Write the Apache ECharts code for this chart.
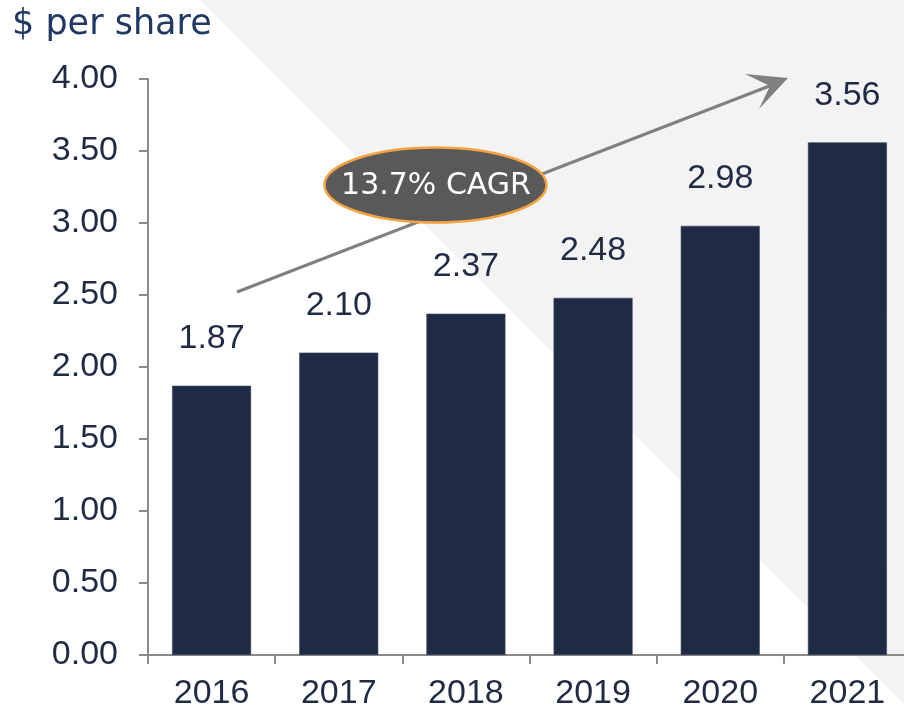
<!DOCTYPE html>
<html>
<head>
<meta charset="utf-8">
<script src="https://cdn.jsdelivr.net/npm/echarts@6/dist/echarts.min.js"></script>
<style>
  html, body { margin: 0; padding: 0; background: #fff; }
  #chart { width: 904px; height: 711px; }
</style>
</head>
<body>
<div id="chart"></div>
<script>
// data
var years = ['2016', '2017', '2018', '2019', '2020', '2021'];
var perShare = [1.87, 2.10, 2.37, 2.48, 2.98, 3.56];
var yTicks = { min: 0, max: 4, step: 0.5 };
var unitLabel = '$ per share';
var cagrLabel = '13.7% CAGR';

var navy = '#1f2a44';
var axisGray = '#8a8a8a';

var myChart = echarts.init(document.getElementById('chart'), null, { renderer: 'canvas' });

var option = {
  backgroundColor: '#ffffff',
  animation: false,
  // plot runs a little past the right edge, like the original slide
  grid: { left: 148, top: 79, width: 763, bottom: 56, outerBoundsMode: 'none', containLabel: false },
  xAxis: {
    type: 'category',
    data: years,
    axisLine: { lineStyle: { color: axisGray, width: 2 } },
    axisTick: { show: true, length: 9, lineStyle: { color: axisGray, width: 2 } },
    axisLabel: {
      color: navy,
      fontFamily: 'Liberation Sans',
      fontSize: 34,
      margin: 22
    }
  },
  yAxis: {
    type: 'value',
    min: yTicks.min,
    max: yTicks.max,
    interval: yTicks.step,
    axisLine: { show: true, lineStyle: { color: axisGray, width: 2 } },
    axisTick: { show: true, length: 9, lineStyle: { color: axisGray, width: 2 } },
    splitLine: { show: false },
    axisLabel: {
      color: navy,
      fontFamily: 'Liberation Sans',
      fontSize: 34,
      margin: 30,
      formatter: function (v) { return v.toFixed(2); }
    }
  },
  series: [{
    type: 'bar',
    data: perShare,
    barWidth: 79,
    itemStyle: { color: navy, borderColor: '#3c4863', borderWidth: 0.6 },
    label: {
      show: true,
      position: 'top',
      distance: 30,
      color: navy,
      fontFamily: 'Liberation Sans',
      fontSize: 34,
      formatter: function (p) { return p.value.toFixed(2); }
    }
  }],
  graphic: [
    {
      // light diagonal backdrop
      type: 'polygon',
      z: -10,
      silent: true,
      shape: { points: [[200, 0], [904, 0], [904, 704]] },
      style: { fill: '#f3f3f3' }
    },
    {
      type: 'text',
      left: 12,
      top: 7,
      style: {
        text: unitLabel,
        fill: '#1f3864',
        font: '35px "DejaVu Sans"'
      }
    },
    {
      // growth arrow
      type: 'line',
      z: 100,
      shape: { x1: 237, y1: 292, x2: 772, y2: 85 },
      style: { stroke: '#808080', lineWidth: 3 }
    },
    {
      type: 'polygon',
      z: 100,
      shape: { points: [[788, 78], [745, 74], [770, 86], [759, 109]] },
      style: { fill: '#808080' }
    },
    {
      type: 'ellipse',
      z: 101,
      shape: { cx: 435.5, cy: 185, rx: 111, ry: 37.5 },
      style: { fill: '#595959', stroke: '#f4a340', lineWidth: 2.5 }
    },
    {
      type: 'text',
      z: 102,
      x: 436,
      y: 186,
      style: {
        text: cagrLabel,
        fill: '#ffffff',
        font: '30px "DejaVu Sans"',
        align: 'center',
        verticalAlign: 'middle'
      }
    }
  ]
};

myChart.setOption(option);
</script>
</body>
</html>
